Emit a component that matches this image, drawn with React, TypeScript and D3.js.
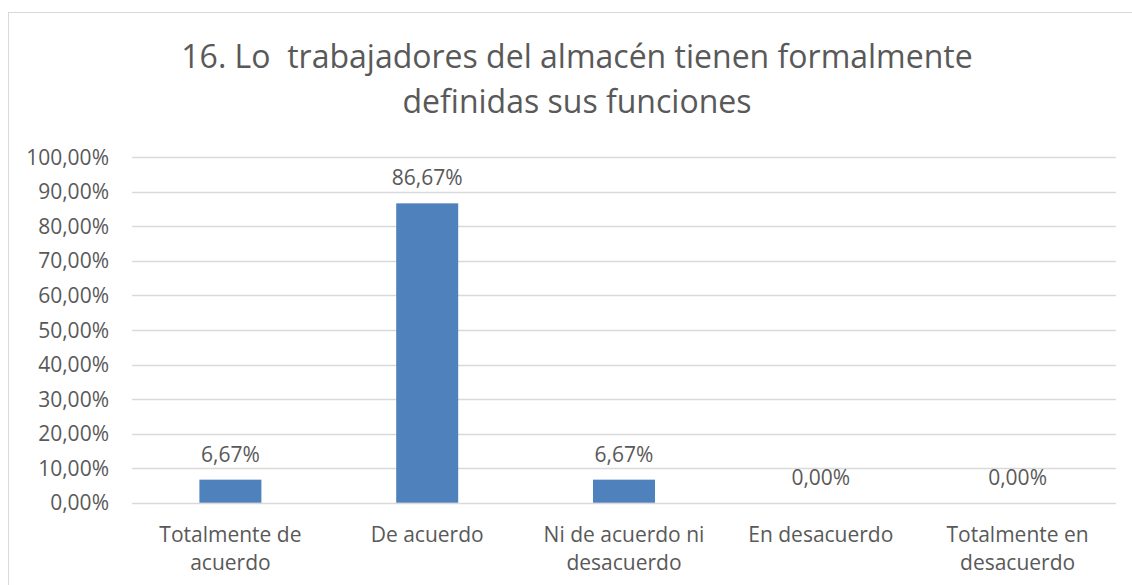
import React from "react";
import * as d3 from "d3";

const categories: string[][] = [
  ["Totalmente de", "acuerdo"],
  ["De acuerdo"],
  ["Ni de acuerdo ni", "desacuerdo"],
  ["En desacuerdo"],
  ["Totalmente en", "desacuerdo"],
];
const values: number[] = [0.0667, 0.8667, 0.0667, 0, 0];
const yTicks: number[] = [0, 0.1, 0.2, 0.3, 0.4, 0.5, 0.6, 0.7, 0.8, 0.9, 1.0];
const titleLines: string[] = [
  "16. Lo  trabajadores del almacén tienen formalmente",
  "definidas sus funciones",
];

const W = 1132;
const H = 585;
const FONT = "'Open Sans', sans-serif";
const TEXT = "#595959";
const GRID = "#D9D9D9";
const BAR = "#4F81BD";

const fmt = (v: number) => (v * 100).toFixed(2).replace(".", ",") + "%";

export default function App() {
  const left = 132;
  const right = 1116;
  const top = 157.3;
  const bottom = 502.7;
  const keys = categories.map((c) => c.join(" "));
  const x = d3
    .scaleBand<string>()
    .domain(keys)
    .range([left, right])
    .paddingInner(0.685)
    .paddingOuter(0.685 / 2);
  const y = d3.scaleLinear().domain([0, 1]).range([bottom, top]);

  return (
    <svg
      width={W}
      height={H}
      style={{ position: "absolute", left: 0, top: 0, overflow: "hidden" }}
      fontFamily={FONT}
    >
      <rect x={0} y={0} width={W} height={H} fill="#fff" />
      <rect x={8.5} y={12.5} width={1300} height={800} fill="none" stroke={GRID} strokeWidth={1} />
      {titleLines.map((t, i) => (
        <text
          key={i}
          x={577}
          y={68 + i * 45}
          textAnchor="middle"
          fontSize={32}
          fill={TEXT}
          style={{ whiteSpace: "pre" }}
        >
          {t}
        </text>
      ))}
      {yTicks.map((t) => (
        <g key={t}>
          <line
            x1={left}
            x2={right}
            y1={Math.round(y(t)) + 0.5}
            y2={Math.round(y(t)) + 0.5}
            stroke={GRID}
            strokeWidth={1.5}
          />
          <text x={109} y={y(t) + 7.5} textAnchor="end" fontSize={21} fill={TEXT}>
            {fmt(t)}
          </text>
        </g>
      ))}
      {values.map((v, i) => {
        const k = keys[i];
        const bx = x(k)!;
        const cx = bx + x.bandwidth() / 2;
        return (
          <g key={k}>
            {v > 0 && (
              <rect x={bx} y={y(v)} width={x.bandwidth()} height={y(0) - y(v)} fill={BAR} />
            )}
            <text x={cx} y={y(v) - 18} textAnchor="middle" fontSize={21} fill={TEXT}>
              {fmt(v)}
            </text>
            {categories[i].map((line, j) => (
              <text
                key={j}
                x={cx}
                y={541.5 + j * 28.5}
                textAnchor="middle"
                fontSize={21}
                fill={TEXT}
              >
                {line}
              </text>
            ))}
          </g>
        );
      })}
    </svg>
  );
}
